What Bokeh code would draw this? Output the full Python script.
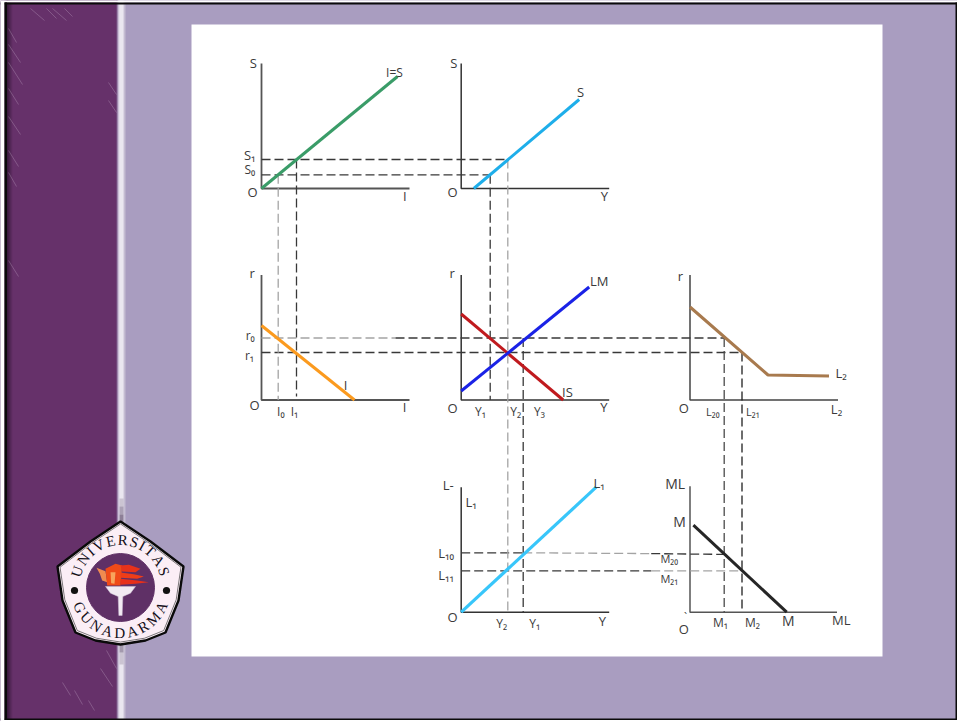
import math
from bokeh.plotting import figure
from bokeh.models import Range1d
from bokeh.core.properties import value
from bokeh.embed import file_html
from bokeh.resources import INLINE

# ---- chart values (each panel's own units, measured from its origin "O") ----
IS_X, IS_Y = [0, 136], [0, 112]           # I=S
S_X, S_Y = [12.6, 118], [0, 89]           # S(Y)
I_X, I_Y = [0, 93], [74.5, 0]             # I(r)
ISC_X, ISC_Y = [0, 102], [86, 0]          # IS
LM_X, LM_Y = [0, 128], [9, 113]           # LM
L2_X, L2_Y = [0, 78, 139], [93, 25, 24]   # L2(r)
L1_X, L1_Y = [0, 135], [0, 125]           # L1(Y)
M_X, M_Y = [3.4, 96.7], [87, 0]           # M

S1, S0 = 29, 13.7
R0, R1 = 62, 47.5
L10, L11 = 59.4, 41.4
I0, I1 = 16.7, 35
Y1, Y2, Y3 = 29, 46.6, 62
L20, L21 = 34.2, 52

# ---- layout: origins of columns/rows in page pixels ----
COL_ORIGIN = {"c1": 261, "c2": 460.7, "c3": 689.5}
ROW_ORIGIN = {"r1": 188, "r2": 399.5, "r3": 611.7}
PAGE_X = (0, 957)
PAGE_Y = (721, 0)

p = figure(width=957, height=721, x_range=Range1d(*PAGE_X), y_range=Range1d(*PAGE_Y),
           output_backend="svg", toolbar_location=None, min_border=0,
           background_fill_color="#a99dc0", border_fill_color="#a99dc0")
p.axis.visible = False
p.grid.visible = False
p.outline_line_color = None
for k, o in COL_ORIGIN.items():
    p.extra_x_ranges[k] = Range1d(PAGE_X[0] - o, PAGE_X[1] - o)
for k, o in ROW_ORIGIN.items():
    p.extra_y_ranges[k] = Range1d(o - PAGE_Y[0], o - PAGE_Y[1])

# ---- slide background ----
p.quad(left=[0], right=[117], top=[0], bottom=[721], fill_color="#66316a", line_color=None)
for x, a in zip([6, 7, 8, 9, 10, 11], [0.75, 0.6, 0.45, 0.3, 0.18, 0.08]):
    p.quad(left=[x], right=[x + 1], top=[0], bottom=[721], fill_color="#1a0a1e", fill_alpha=a, line_color=None)
STRIPE = [(116, "#7d5e8c"), (117, "#b9a8c6"), (118, "#e6deec"), (119, "#ffffff"), (120, "#ffffff"),
          (121, "#ffffff"), (122, "#ffffff"), (123, "#e2dbe8"), (124, "#c4bcd0")]
for x, c in STRIPE:
    p.quad(left=[x], right=[x + 1], top=[0], bottom=[721], fill_color=c, line_color=None)
for (y0, y1, a) in [(498, 506, 0.2), (506, 514, 0.4), (514, 525, 0.6), (640, 652, 0.45), (652, 664, 0.2)]:
    p.quad(left=[119], right=[123], top=[y0], bottom=[y1], fill_color="#4e3a5c", fill_alpha=a, line_color=None)

STREAK_X0 = [8, 8, 8, 8, 8, 30, 46, 52, 64, 108, 108, 8, 8, 8, 62, 74, 100, 106, 88]
STREAK_Y0 = [28, 44, 62, 88, 116, 8, 8, 8, 8, 82, 100, 150, 172, 260, 682, 690, 668, 650, 700]
STREAK_X1 = [16, 20, 22, 18, 20, 44, 56, 66, 72, 116, 116, 18, 16, 18, 70, 82, 112, 116, 94]
STREAK_Y1 = [42, 62, 84, 104, 134, 20, 18, 20, 16, 94, 112, 166, 186, 276, 695, 704, 686, 668, 710]
p.segment(STREAK_X0, STREAK_Y0, STREAK_X1, STREAK_Y1, line_color="#e8d6ec", line_alpha=0.24, line_width=1)

# white sheet
p.quad(left=[191], right=[882], top=[24], bottom=[656], fill_color="#ffffff", line_color=None)

# slide frame
p.quad(left=[0], right=[957], top=[0], bottom=[2], fill_color="#ffffff", line_color=None)
p.quad(left=[0], right=[957], top=[2], bottom=[4], fill_color="#0a0a0a", line_color=None)
p.quad(left=[0], right=[957], top=[719], bottom=[721], fill_color="#ffffff", line_color=None)
p.quad(left=[0], right=[957], top=[718], bottom=[719.5], fill_color="#0a0a0a", line_color=None)
p.quad(left=[0], right=[4], top=[0], bottom=[721], fill_color="#ffffff", line_color=None)
p.quad(left=[4], right=[6.5], top=[2], bottom=[719.5], fill_color="#0a0a0a", line_color=None)
p.quad(left=[955], right=[957], top=[2], bottom=[719.5], fill_color="#0a0a0a", line_color=None)

# ---- logo ----
LOGO_CX, LOGO_CY = 120, 587
OUTER_X = [120, 150, 183, 178, 165, 145, 120, 95, 75, 62, 57, 90]
OUTER_Y = [521, 541, 566, 600, 632, 640, 644, 640, 632, 600, 566, 541]
p.patch(OUTER_X, OUTER_Y, fill_color="#fbeef6", line_color="#0a0a0a", line_width=2.4)
INNER_X = [120 + (x - 120) * 0.96 for x in OUTER_X]
INNER_Y = [583 + (y - 583) * 0.96 for y in OUTER_Y]
p.patch(INNER_X, INNER_Y, fill_color=None, line_color="#444444", line_width=0.7)
p.circle(x=[LOGO_CX], y=[LOGO_CY], radius=34, fill_color="#5f3066", line_color="#5f3066")
p.circle(x=[74, 166], y=[590, 590], radius=3.6, fill_color="#111111", line_color=None)

def zoomed(pts):
    return [40 + a / 3 for a, b in pts], [500 + b / 3 for a, b in pts]

FLAME_PARTS = [
    ([(168, 202), (195, 212), (200, 245), (185, 240), (178, 220)], "#f08a50"),
    ([(195, 205), (225, 190), (245, 195), (240, 255), (200, 255)], "#f04a18"),
    ([(240, 195), (265, 193), (300, 205), (285, 215), (245, 213)], "#e8321a"),
    ([(240, 216), (280, 221), (310, 228), (290, 235), (240, 232)], "#ef3d18"),
    ([(240, 235), (290, 240), (325, 245), (285, 250), (240, 253)], "#e8301a"),
    ([(210, 215), (225, 215), (222, 250), (212, 248)], "#f8a45c"),
]
for pts, col in FLAME_PARTS:
    fx, fy = zoomed(pts)
    p.patch(fx, fy, fill_color=col, line_color=None)
CUP_X, CUP_Y = zoomed([(195, 258), (285, 258), (270, 278), (247, 288), (245, 345), (235, 345), (233, 288), (210, 278)])
p.patch(CUP_X, CUP_Y, fill_color="#f2eaf2", line_color="#cfc2d6", line_width=0.5)

UNI = "UNIVERSITAS"
GUN = "GUNADARMA"
WIDTH = {"U": .74, "N": .74, "I": .38, "V": .72, "E": .62, "R": .68, "S": .56, "T": .62, "A": .74, "G": .74, "D": .74, "M": .88}
def arc_angles(word, span):
    w = [WIDTH[c] for c in word]
    mids, run = [], 0
    for x in w:
        mids.append(run + x / 2); run += x
    lo, hi = mids[0], mids[-1]
    return [math.radians(-span + 2 * span * (m - lo) / (hi - lo)) for m in mids]

R = 45.5
ux, uy, ua = [], [], []
for t in arc_angles(UNI, 72):
    ux.append(LOGO_CX + R * math.sin(t)); uy.append(LOGO_CY - 2 - R * math.cos(t)); ua.append(-t)
p.text(ux, uy, text=list(UNI), angle=ua, text_font=value("Liberation Serif"),
       text_font_size="15px", text_color="#15101a", text_align="center", text_baseline="middle")
gx, gy, ga = [], [], []
for t in arc_angles(GUN, 64):
    gx.append(LOGO_CX + R * math.sin(t)); gy.append(LOGO_CY + R * math.cos(t)); ga.append(t)
p.text(gx, gy, text=list(GUN), angle=ga, text_font=value("Liberation Serif"),
       text_font_size="15px", text_color="#15101a", text_align="center", text_baseline="middle")

# ---- axes of the seven panels: (column, row, x extent, y extent, colour, width) ----
AXES = [("c1", "r1", 148, 125, "#555555", 1.8), ("c2", "r1", 148, 125, "#333333", 1.5),
        ("c1", "r2", 148, 125, "#555555", 1.8), ("c2", "r2", 148, 125, "#333333", 1.5),
        ("c3", "r2", 148, 125, "#444444", 1.5), ("c2", "r3", 148, 125, "#333333", 1.5),
        ("c3", "r3", 147, 126, "#555555", 1.5)]
for c, r, xm, ym, col, w in AXES:
    p.line([0, 0, xm], [ym, 0, 0], x_range_name=c, y_range_name=r, line_color=col, line_width=w)

# ---- dashed guides ----
DARK, GREY = "#383838", "#a4a4a4"
DASH = "9 4"
def guide(c, r, xs, ys, col=DARK):
    p.line(xs, ys, x_range_name=c, y_range_name=r, line_color=col, line_width=1.3, line_dash=DASH)

# horizontals
guide("c1", "r1", [0, 246], [S1, S1])
guide("c1", "r1", [0, 229], [S0, S0])
guide("c1", "r2", [0, 134], [R0, R0], GREY)
guide("c1", "r2", [134, 463], [R0, R0])
guide("c1", "r2", [0, 481], [R1, R1])
guide("c2", "r3", [0, 62], [L10, L10])
guide("c2", "r3", [62, 190], [L10, L10 - 0.8], GREY)
guide("c2", "r3", [190, 263], [L10 - 0.8, L10 - 1.6])
guide("c2", "r3", [0, 190], [L11, L11])
guide("c2", "r3", [190, 281], [L11, L11], GREY)
# verticals
guide("c1", "r1", [I0, I0], [S0, -211.5], GREY)
guide("c1", "r1", [I1, I1], [S1, -208])
guide("c2", "r1", [Y1, Y1], [S0, -211.5])
guide("c2", "r1", [Y2, Y2], [S1, -423.7], GREY)
guide("c2", "r2", [Y3, Y3], [R0, -212.2])
guide("c3", "r2", [L20, L20], [R0, -212.2], "#4a4a4a")
guide("c3", "r2", [L21, L21], [R1, -212.2], "#202020")

# ---- curves ----
CURVES = [("c1", "r1", IS_X, IS_Y, "#3a9c68", 3), ("c2", "r1", S_X, S_Y, "#1eaeea", 3),
          ("c1", "r2", I_X, I_Y, "#fb9a1e", 3), ("c2", "r2", ISC_X, ISC_Y, "#c01a1e", 3),
          ("c2", "r2", LM_X, LM_Y, "#1a22e6", 3), ("c3", "r2", L2_X, L2_Y, "#a87a4e", 3),
          ("c2", "r3", L1_X, L1_Y, "#38c6fa", 3.2), ("c3", "r3", M_X, M_Y, "#262626", 3)]
for c, r, xs, ys, col, w in CURVES:
    p.line(xs, ys, x_range_name=c, y_range_name=r, line_color=col, line_width=w)

# ---- labels ----
LABELS = [
    ("S", 252.7, 62.7, 13), ("I=S", 394, 71.7, 12), ("S₁", 249.3, 154, 13), ("S₀", 249.3, 169.3, 12),
    ("O", 252, 191.7, 13), ("I", 404.3, 195.7, 13),
    ("S", 453.3, 62.7, 13), ("S", 580, 91.7, 13), ("O", 452, 191.7, 13), ("Y", 604, 195.7, 13),
    ("r", 251.7, 272, 13), ("r₀", 249.7, 335, 12), ("r₁", 249, 354.7, 12), ("O", 254, 404.3, 13),
    ("I₀", 280.3, 411, 12), ("I₁", 294, 411, 12), ("I", 345, 384, 13), ("I", 404, 406.7, 13),
    ("r", 451.7, 272, 13), ("LM", 598.7, 280, 13), ("IS", 567, 391.7, 13), ("O", 452, 407.7, 13),
    ("Y₁", 480, 410.7, 12), ("Y₂", 515.3, 410.7, 12), ("Y₃", 539, 410.7, 12), ("Y", 603.3, 406.7, 13),
    ("r", 680, 275, 13), ("L₂", 840.7, 372, 13), ("O", 683.3, 407, 13), ("L₂₀", 712.3, 411, 11),
    ("L₂₁", 752.3, 411, 11), ("L₂", 836, 408.3, 13),
    ("L-", 447.7, 484, 13), ("L₁", 470.7, 501.7, 13), ("L₁", 598.7, 482.7, 13), ("L₁₀", 445.7, 552.3, 13),
    ("L₁₁", 445.7, 574, 13), ("O", 452, 616.7, 13), ("Y₂", 501.3, 622.7, 12), ("Y₁", 534.3, 622.7, 12),
    ("Y", 602, 620, 13),
    ("ML", 674.7, 483.3, 14), ("M", 679, 520.7, 14), ("M₂₀", 668.7, 558, 11), ("M₂₁", 668.7, 578, 11),
    ("`", 685, 616, 11), ("O", 683.3, 628.3, 13), ("M₁", 720, 622.3, 12), ("M₂", 752, 622.3, 12),
    ("M", 787.7, 620, 14), ("ML", 840.7, 619, 13),
]
for size in sorted({l[3] for l in LABELS}):
    sel = [l for l in LABELS if l[3] == size]
    p.text([l[1] for l in sel], [l[2] for l in sel], text=[l[0] for l in sel],
           text_font=value("Open Sans"), text_font_size=f"{size}px", text_color="#3a3a3a",
           text_align="center", text_baseline="middle")

open("out.html", "w").write(file_html(p, INLINE))
